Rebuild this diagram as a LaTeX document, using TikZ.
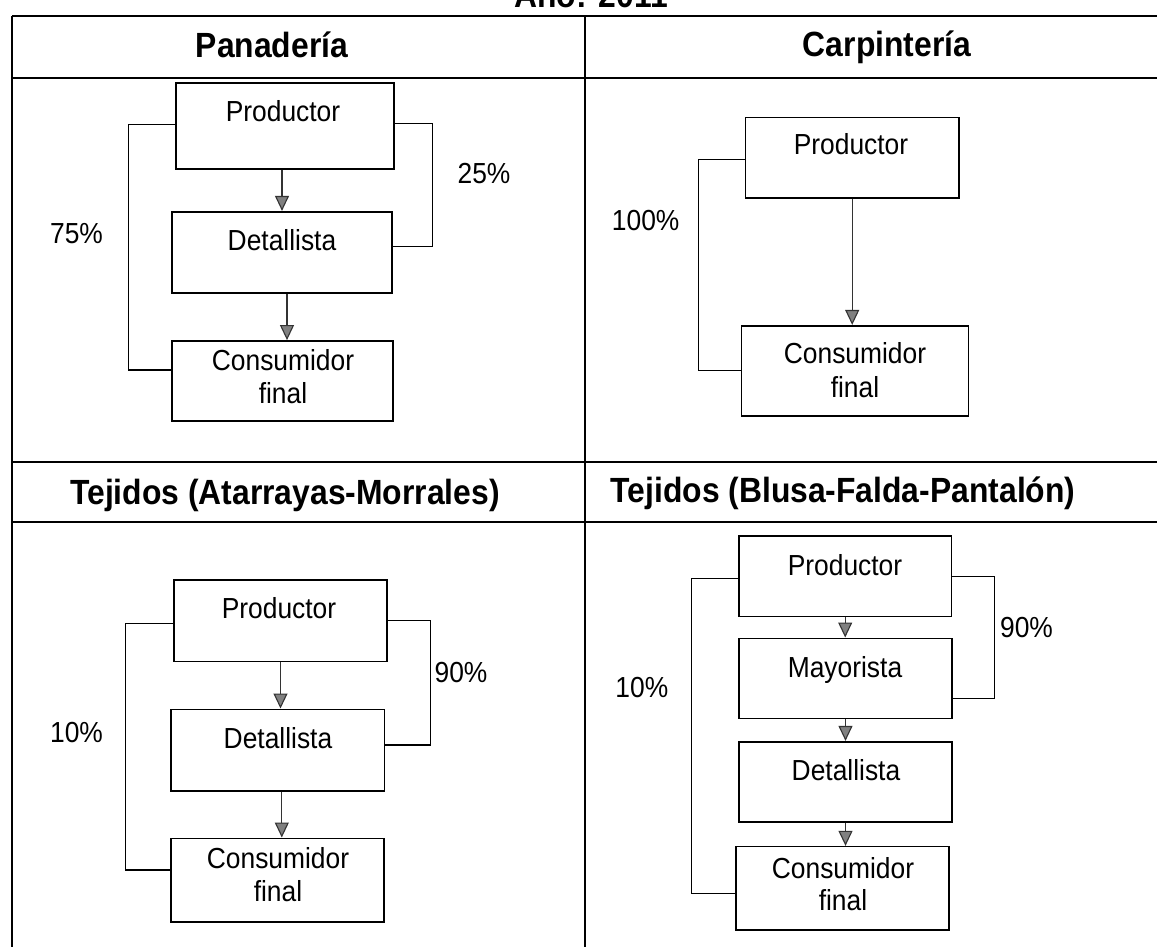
\documentclass[tikz,border=0pt]{standalone}
\usepackage{fontspec}
\setmainfont{Liberation Sans}[FakeStretch=0.91]
\usetikzlibrary{arrows.meta}
\tikzset{
  grid/.style={line width=1.8pt,draw=black},
  box/.style={draw=black,line width=1.6pt,inner sep=0pt,fill=white},
  txt/.style={inner sep=0pt,anchor=base,font=\fontsize{29}{33}\selectfont},
  hdr/.style={inner sep=0pt,anchor=base,font=\fontsize{35}{40}\selectfont\bfseries},
  arr/.style={draw=black!80,line width=1.1pt,-{Triangle[width=14pt,length=15pt,fill=black!50]}},
  brk/.style={draw=black,line width=1.3pt},
}
\begin{document}
\begin{tikzpicture}[x=1pt,y=-1pt]
\useasboundingbox (0,0) rectangle (1157,947);
\fill[white] (0,0) rectangle (1157,947);
\clip (0,0) rectangle (1157,947);
% title (cut at top, as in the reference)
\node[hdr] (title) at (591,8) {Año: 2011};
% table
\draw[grid] (12,16) -- (1160,16);
\draw[grid] (12,16) -- (12,950);
\draw[grid] (585,16) -- (585,950);
\draw[grid] (12,78) -- (1160,78);
\draw[grid] (12,462) -- (1160,462);
\draw[grid] (12,522) -- (1160,522);
% headers
\node[hdr] (h1) at (272,58) {Panadería};
\node[hdr] (h2) at (887,57) {Carpintería};
\node[hdr] (h3) at (285,504) {Tejidos (Atarrayas-Morrales)};
\node[hdr] (h4) at (843,502) {Tejidos (Blusa-Falda-Pantalón)};

% ---------- Panadería ----------
\node[box,minimum width=218pt,minimum height=86pt] (P1) at (285,126.2) {};
\node[box,minimum width=220pt,minimum height=81pt] (D1) at (282,252.2) {};
\node[box,minimum width=221pt,minimum height=80pt] (C1) at (282.5,380.9) {};
\node[txt] (P1t) at (283,122) {Productor};
\node[txt] (D1t) at (282,250) {Detallista};
\node[txt] (C1a) at (283,370) {Consumidor};
\node[txt] (C1b) at (283,403) {final};
\draw[arr] (P1.south -| D1.north) -- (D1.north);
\draw[arr] ([xshift=5pt]D1.south) -- ([xshift=5pt]D1.south |- C1.north);
\draw[brk] ([yshift=2pt]P1.west) -- ++(-47,0) |- ([yshift=11pt]C1.west);
\draw[brk] ([yshift=3pt]P1.east) -- ++(38,0) |- ([yshift=6pt]D1.east);
\node[txt] (l75) at (76.5,243) {75\%};
\node[txt] (l25) at (484,183) {25\%};

% ---------- Carpintería ----------
\node[box,minimum width=213.5pt,minimum height=80pt] (P2) at (852.2,157.7) {};
\node[box,minimum width=227pt,minimum height=90pt] (C2) at (855.1,370.7) {};
\node[txt] (P2t) at (851,155) {Productor};
\node[txt] (C2a) at (855,363) {Consumidor};
\node[txt] (C2b) at (855,397) {final};
\draw[arr] (P2.south) -- (P2.south |- C2.north);
\draw[brk] ([yshift=-2pt]P2.west) -- ++(-46.5,0) |- (C2.west);
\node[txt] (l100) at (645.7,230) {100\%};

% ---------- Tejidos (Atarrayas-Morrales) ----------
\node[box,minimum width=213pt,minimum height=81.7pt] (P3) at (280.5,620.8) {};
\node[box,minimum width=213.6pt,minimum height=81.4pt] (D3) at (277.8,750) {};
\node[box,minimum width=213pt,minimum height=83.4pt] (C3) at (277.5,880) {};
\node[txt] (P3t) at (279,618) {Productor};
\node[txt] (D3t) at (278,748) {Detallista};
\node[txt] (C3a) at (278,868) {Consumidor};
\node[txt] (C3b) at (278,901) {final};
\draw[arr] (P3.south) -- (P3.south |- D3.north);
\draw[arr] ([xshift=4pt]D3.south) -- ([xshift=4pt]D3.south |- C3.north);
\draw[brk] ([yshift=-3pt]P3.west) -- ++(-47.7,0) |- ([yshift=10pt]C3.west);
\draw[brk] (P3.east) -- ++(42.4,0) |- ([yshift=5pt]D3.east);
\node[txt] (l90a) at (461,682) {90\%};
\node[txt] (l10a) at (76.5,742) {10\%};

% ---------- Tejidos (Blusa-Falda-Pantalón) ----------
\node[box,minimum width=212.5pt,minimum height=80.7pt] (P4) at (845.2,576.3) {};
\node[box,minimum width=213pt,minimum height=80pt] (M4) at (845.5,678.3) {};
\node[box,minimum width=213pt,minimum height=80pt] (D4) at (845.5,781.7) {};
\node[box,minimum width=213pt,minimum height=83.3pt] (C4) at (842.5,888.3) {};
\node[txt] (P4t) at (845,575) {Productor};
\node[txt] (M4t) at (845,677) {Mayorista};
\node[txt] (D4t) at (846,780) {Detallista};
\node[txt] (C4a) at (843,878) {Consumidor};
\node[txt] (C4b) at (843,910) {final};
\draw[arr] (P4.south) -- (P4.south |- M4.north);
\draw[arr] (M4.south) -- (M4.south |- D4.north);
\draw[arr] (D4.south) -- (D4.south |- C4.north);
\draw[brk] ([yshift=-2pt]P4.west) -- ++(-46.5,0) |- ([yshift=-5pt]C4.west);
\draw[brk] (P4.east) -- ++(42.5,0) |- ([yshift=-20pt]M4.east);
\node[txt] (l90b) at (1026.5,637) {90\%};
\node[txt] (l10b) at (641.9,697) {10\%};
\end{tikzpicture}
\end{document}
